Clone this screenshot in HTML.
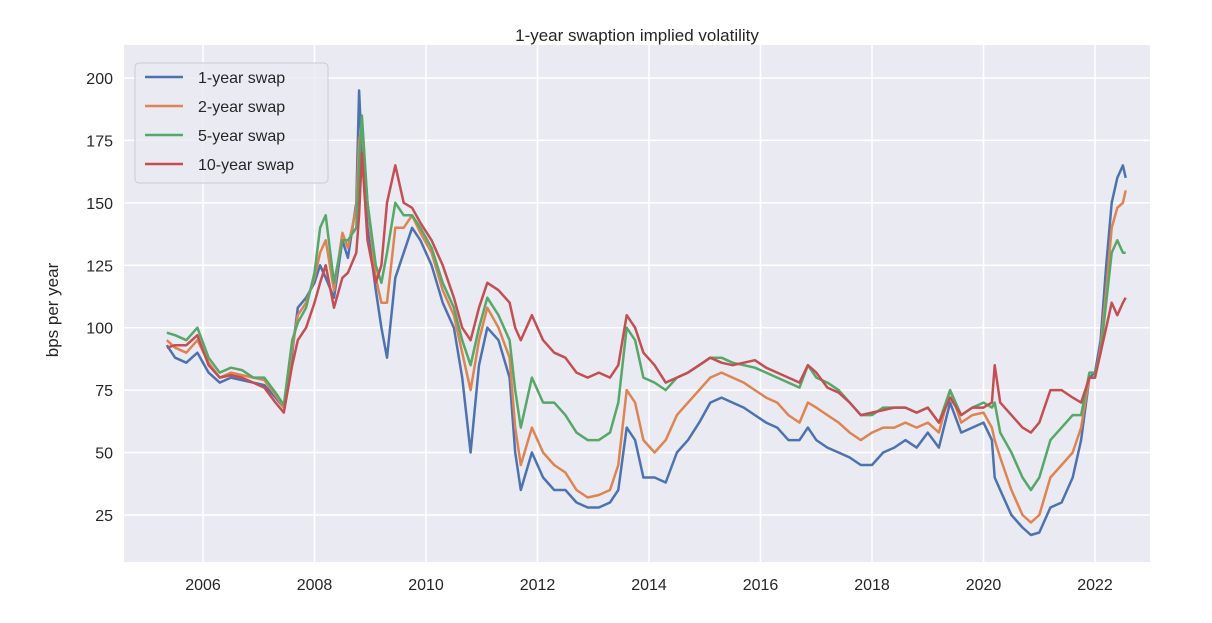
<!DOCTYPE html>
<html><head><meta charset="utf-8"><style>
body{margin:0;background:#fff;font-family:"Liberation Sans",sans-serif;}
svg text{font-family:"Liberation Sans",sans-serif;fill:#262626;}
</style></head><body>
<svg id="chart" width="1212" height="618" viewBox="0 0 1212 618">
<rect x="124" y="45" width="1026" height="517" fill="#eaeaf2"/>
<g id="grid"></g><g id="series"></g><g id="axes"></g>
<text x="637" y="41" text-anchor="middle" font-size="17">1-year swaption implied volatility</text>
<text x="58" y="310" text-anchor="middle" font-size="17" transform="rotate(-90 58 310)">bps per year</text>
<g id="legend"></g>
</svg>
<script>
const dates=[2005.35,2005.5,2005.7,2005.9,2006.1,2006.3,2006.5,2006.7,2006.9,2007.1,2007.3,2007.45,2007.6,2007.7,2007.85,2008.0,2008.1,2008.2,2008.35,2008.5,2008.6,2008.75,2008.8,2008.85,2008.95,2009.1,2009.2,2009.3,2009.45,2009.6,2009.75,2009.9,2010.1,2010.3,2010.5,2010.65,2010.8,2010.95,2011.1,2011.3,2011.5,2011.6,2011.7,2011.9,2012.1,2012.3,2012.5,2012.7,2012.9,2013.1,2013.3,2013.45,2013.6,2013.75,2013.9,2014.1,2014.3,2014.5,2014.7,2014.9,2015.1,2015.3,2015.5,2015.7,2015.9,2016.1,2016.3,2016.5,2016.7,2016.85,2017.0,2017.2,2017.4,2017.6,2017.8,2018.0,2018.2,2018.4,2018.6,2018.8,2019.0,2019.2,2019.4,2019.6,2019.8,2020.0,2020.15,2020.2,2020.3,2020.5,2020.7,2020.85,2021.0,2021.2,2021.4,2021.6,2021.75,2021.9,2022.0,2022.1,2022.2,2022.3,2022.4,2022.5,2022.55];
const swap1y=[93,88,86,90,82,78,80,79,78,77,72,68,90,108,112,118,125,120,112,135,128,150,195,170,140,115,100,88,120,130,140,135,125,110,100,80,50,85,100,95,80,50,35,50,40,35,35,30,28,28,30,35,60,55,40,40,38,50,55,62,70,72,70,68,65,62,60,55,55,60,55,52,50,48,45,45,50,52,55,52,58,52,70,58,60,62,55,40,35,25,20,17,18,28,30,40,55,80,82,95,125,150,160,165,160];
const swap2y=[95,92,90,95,86,80,82,81,80,79,73,68,92,105,110,120,130,135,115,138,132,148,175,180,150,120,110,110,140,140,145,138,130,115,105,90,75,95,108,100,88,60,45,60,50,45,42,35,32,33,35,45,75,70,55,50,55,65,70,75,80,82,80,78,75,72,70,65,62,70,68,65,62,58,55,58,60,60,62,60,62,58,75,62,65,66,60,55,48,35,25,22,25,40,45,50,60,80,80,92,115,140,148,150,155];
const swap5y=[98,97,95,100,88,82,84,83,80,80,74,69,95,102,108,122,140,145,118,135,135,140,165,185,150,125,118,130,150,145,145,140,132,118,108,95,85,100,112,105,95,75,60,80,70,70,65,58,55,55,58,70,100,95,80,78,75,80,82,85,88,88,86,85,84,82,80,78,76,85,80,78,75,70,65,65,68,68,68,66,68,62,75,65,68,70,68,70,58,50,40,35,40,55,60,65,65,82,82,90,110,130,135,130,130];
const swap10y=[92,93,93,97,85,80,81,80,78,76,70,66,85,95,100,110,118,125,108,120,122,130,145,170,135,118,125,150,165,150,148,142,135,125,112,100,95,108,118,115,110,100,95,105,95,90,88,82,80,82,80,85,105,100,90,85,78,80,82,85,88,86,85,86,87,84,82,80,78,85,82,76,74,70,65,66,67,68,68,66,68,62,72,65,68,68,70,85,70,65,60,58,62,75,75,72,70,80,80,90,100,110,105,110,112];
const yTicks=[25,50,75,100,125,150,175,200];
const xTicks=[2006,2008,2010,2012,2014,2016,2018,2020,2022];
const names=["1-year swap","2-year swap","5-year swap","10-year swap"];
const colors=["#4c72b0","#dd8452","#55a868","#c44e52"];
const X=d=>203+(d-2006)*55.75;
const Y=v=>78+(200-v)*2.497;
const NS="http://www.w3.org/2000/svg";
function mk(tag,attrs,parent){const e=document.createElementNS(NS,tag);for(const k in attrs)e.setAttribute(k,attrs[k]);parent.appendChild(e);return e;}
const grid=document.getElementById('grid'),axes=document.getElementById('axes'),ser=document.getElementById('series'),leg=document.getElementById('legend');
yTicks.forEach(t=>{const l=mk('line',{x1:124,x2:1150,y1:Y(t),y2:Y(t),stroke:'#fff','stroke-width':1.5},grid);

const tx=mk('text',{x:113,y:Y(t)+6,'text-anchor':'end','font-size':16},axes);tx.textContent=t;
});
xTicks.forEach(t=>{const l=mk('line',{x1:X(t),x2:X(t),y1:45,y2:562,stroke:'#fff','stroke-width':1.5},grid);

const tx=mk('text',{x:X(t),y:590,'text-anchor':'middle','font-size':16},axes);tx.textContent=t;
});
[swap1y,swap2y,swap5y,swap10y].forEach((s,i)=>{const p=mk('polyline',{points:dates.map((d,j)=>X(d).toFixed(1)+','+Y(s[j]).toFixed(1)).join(' '),fill:'none',stroke:colors[i],'stroke-width':2.5,'stroke-linejoin':'round'},ser);
});
const lb=mk('rect',{x:135,y:63,width:193,height:120,rx:4,fill:'#eaeaf2',stroke:'#ccc','fill-opacity':0.8},leg);

names.forEach((n,i)=>{const y=77+i*29;const l=mk('line',{x1:145,x2:183,y1:y,y2:y,stroke:colors[i],'stroke-width':2.5},leg);

const t=mk('text',{x:198,y:y+6,'font-size':16},leg);t.textContent=n;
});
</script>
</body></html>
